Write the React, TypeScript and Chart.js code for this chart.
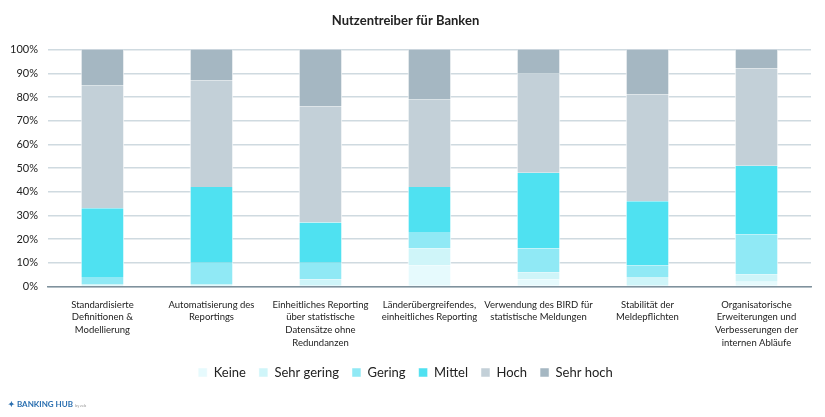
import React, { useEffect, useRef } from "react";
import { Chart, registerables } from "chart.js";

Chart.register(...registerables);

const categories: string[][] = [
  ["Standardisierte", "Definitionen &", "Modellierung"],
  ["Automatisierung des", "Reportings"],
  ["Einheitliches Reporting", "über statistische", "Datensätze ohne", "Redundanzen"],
  ["Länderübergreifendes,", "einheitliches Reporting"],
  ["Verwendung des BIRD für", "statistische Meldungen"],
  ["Stabilität der", "Meldepflichten"],
  ["Organisatorische", "Erweiterungen und", "Verbesserungen der", "internen Abläufe"],
];

const keine = [0, 0, 0, 9, 3, 0, 2];
const sehrGering = [1, 1, 3, 7, 3, 4, 3];
const gering = [3, 9, 7, 7, 10, 5, 17];
const mittel = [29, 32, 17, 19, 32, 27, 29];
const hoch = [52, 45, 49, 37, 42, 45, 41];
const sehrHoch = [15, 13, 24, 21, 10, 19, 8];

const seriesNames = ["Keine", "Sehr gering", "Gering", "Mittel", "Hoch", "Sehr hoch"];
const seriesColors = ["#e6fafd", "#cff5f9", "#90e9f5", "#4fe1f1", "#c3d0d8", "#a5b7c2"];
const yTicks = [0, 10, 20, 30, 40, 50, 60, 70, 80, 90, 100];

const FONT = "Lato, 'Open Sans', sans-serif";

export default function App() {
  const ref = useRef<HTMLCanvasElement>(null);
  useEffect(() => {
    if (!ref.current) return;
    const values = [keine, sehrGering, gering, mittel, hoch, sehrHoch];
    const chart = new Chart(ref.current, {
      type: "bar",
      data: {
        labels: categories,
        datasets: values.map((v, i) => ({
          label: seriesNames[i],
          data: v,
          backgroundColor: seriesColors[i],
          borderColor: "#ffffff",
          borderWidth: { left: 1, right: 1, top: 0, bottom: 0 },
          barPercentage: 0.4,
          categoryPercentage: 1,
        })),
      },
      options: {
        animation: false,
        responsive: false,
        maintainAspectRatio: false,
        layout: { padding: { left: 0, right: 14, top: 0, bottom: 28 } },
        plugins: {
          title: {
            display: true,
            text: "Nutzentreiber für Banken",
            color: "#222222",
            font: { family: FONT, size: 13, weight: "bold" },
            padding: { top: 13, bottom: 21 },
          },
          legend: {
            position: "bottom",
            labels: {
              boxWidth: 9,
              boxHeight: 9,
              color: "#222222",
              font: { family: FONT, size: 13 },
              padding: 13,
            },
          },
          tooltip: { enabled: false },
        },
        scales: {
          x: {
            stacked: true,
            grid: { display: false },
            border: { display: true, color: "#7f919c", width: 1.5 },
            ticks: {
              color: "#222222",
              font: { family: FONT, size: 9.5, lineHeight: 1.33 },
              maxRotation: 0,
              autoSkip: false,
              padding: 4,
            },
          },
          y: {
            stacked: true,
            min: 0,
            max: 100,
            afterBuildTicks: (axis: any) => {
              axis.ticks = yTicks.map((v) => ({ value: v }));
            },
            grid: { color: "#cfdae0", lineWidth: 1.5, drawTicks: false },
            border: { display: false },
            ticks: {
              color: "#222222",
              font: { family: FONT, size: 11 },
              padding: 10,
              callback: (v: any) => v + "%",
            },
          },
        },
      },
    });
    return () => chart.destroy();
  }, []);
  return (
    <div style={{ position: "fixed", left: 0, top: 0, width: 825, height: 417, background: "#fff" }}>
      <canvas ref={ref} width={825} height={417} style={{ width: 825, height: 417 }} />
      <div
        style={{
          position: "absolute",
          left: 8,
          top: 399,
          fontFamily: FONT,
          fontSize: 8,
          fontWeight: "bold",
          color: "#2a6fb0",
        }}
      >
        ✦ BANKING HUB <span style={{ fontSize: 4, color: "#999", fontWeight: "normal" }}>by zeb</span>
      </div>
    </div>
  );
}
